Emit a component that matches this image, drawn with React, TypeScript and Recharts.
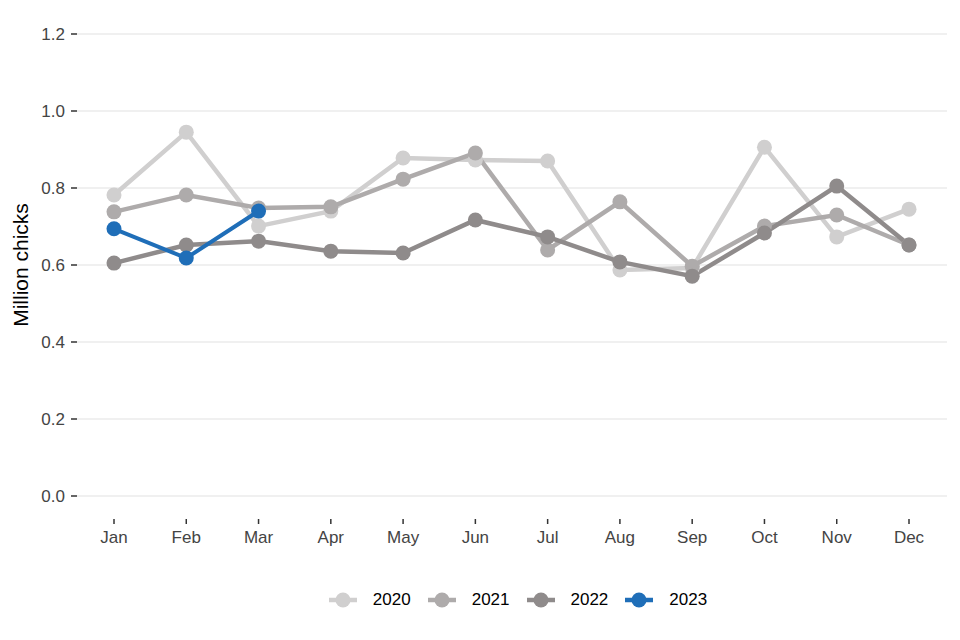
import React from "react";
import { LineChart, Line, XAxis, YAxis, CartesianGrid, Legend } from "recharts";

const MONTHS = ["Jan", "Feb", "Mar", "Apr", "May", "Jun", "Jul", "Aug", "Sep", "Oct", "Nov", "Dec"];

const Y2020 = [0.782, 0.945, 0.701, 0.74, 0.878, 0.873, 0.87, 0.587, 0.592, 0.906, 0.673, 0.745];
const Y2021 = [0.738, 0.782, 0.748, 0.751, 0.823, 0.891, 0.639, 0.764, 0.597, 0.701, 0.73, 0.652];
const Y2022 = [0.605, 0.652, 0.662, 0.636, 0.631, 0.717, 0.673, 0.608, 0.571, 0.683, 0.805, 0.652];
const Y2023 = [0.694, 0.618, 0.74];

const Y_TICKS = [0, 0.2, 0.4, 0.6, 0.8, 1.0, 1.2];

const SERIES = [
  { key: "2020", values: Y2020, color: "#d0cfcf" },
  { key: "2021", values: Y2021, color: "#aeabab" },
  { key: "2022", values: Y2022, color: "#8f8b8b" },
  { key: "2023", values: Y2023, color: "#1f6eb8" },
];

const FONT = "'Liberation Sans', Arial, sans-serif";

const data = MONTHS.map((m, i) => {
  const row: Record<string, string | number | null> = { month: m };
  SERIES.forEach((s) => {
    row[s.key] = i < s.values.length ? s.values[i] : null;
  });
  return row;
});

function MonthTick(props: any) {
  const { x, y, payload } = props;
  return (
    <g>
      <line x1={x} x2={x} y1={y + 23} y2={y + 28} stroke="#333" strokeWidth={1.5} />
      <text x={x} y={y + 47} textAnchor="middle" fill="#444" fontSize={17} fontFamily={FONT}>
        {payload.value}
      </text>
    </g>
  );
}

function YLabel(props: any) {
  const vb = props.viewBox || { x: 0, y: 0, width: 0, height: 0 };
  const cx = vb.x + 20;
  const cy = vb.y + vb.height / 2;
  return (
    <text
      x={cx}
      y={cy}
      transform={`rotate(-90 ${cx} ${cy})`}
      textAnchor="middle"
      dominantBaseline="central"
      fill="#000"
      fontSize={21}
      fontFamily={FONT}
    >
      Million chicks
    </text>
  );
}

function LegendContent() {
  return (
    <div style={{ display: "flex", justifyContent: "center", alignItems: "center", fontFamily: FONT, paddingLeft: 106 }}>
      {SERIES.map((s) => (
        <div key={s.key} style={{ display: "flex", alignItems: "center", marginRight: 17 }}>
          <svg width={28} height={16}>
            <line x1={0} x2={28} y1={8} y2={8} stroke={s.color} strokeWidth={4.5} />
            <circle cx={14} cy={8} r={7.5} fill={s.color} />
          </svg>
          <span style={{ marginLeft: 16, fontSize: 17, color: "#000" }}>{s.key}</span>
        </div>
      ))}
    </div>
  );
}

export default function App() {
  return (
    <div style={{ position: "absolute", left: 0, top: 0, width: 960, height: 640, background: "#fff" }}>
      <LineChart width={960} height={640} data={data} margin={{ top: 34, right: 13, left: 0, bottom: 6 }}>
        <CartesianGrid vertical={false} stroke="#ebebeb" strokeWidth={1.5} />
        <XAxis
          dataKey="month"
          axisLine={false}
          tickLine={false}
          tickSize={0}
          tickMargin={0}
          height={94}
          padding={{ left: 37, right: 38 }}
          tick={<MonthTick />}
          interval={0}
        />
        <YAxis
          domain={[0, 1.2]}
          ticks={Y_TICKS}
          width={77}
          axisLine={false}
          tickLine={{ stroke: "#333", strokeWidth: 1.5 }}
          tickSize={6}
          tickMargin={6}
          tickFormatter={(v: number) => v.toFixed(1)}
          tick={{ fill: "#444", fontSize: 17, fontFamily: FONT }}
          label={<YLabel />}
        />
        <Legend verticalAlign="bottom" height={44} content={<LegendContent />} />
        {SERIES.map((s) => (
          <Line
            key={s.key}
            dataKey={s.key}
            stroke={s.color}
            strokeWidth={s.key === "2023" ? 4 : 4.5}
            dot={{ r: 7.5, fill: s.color, stroke: "none" }}
            activeDot={false}
            connectNulls={false}
            isAnimationActive={false}
          />
        ))}
      </LineChart>
    </div>
  );
}
